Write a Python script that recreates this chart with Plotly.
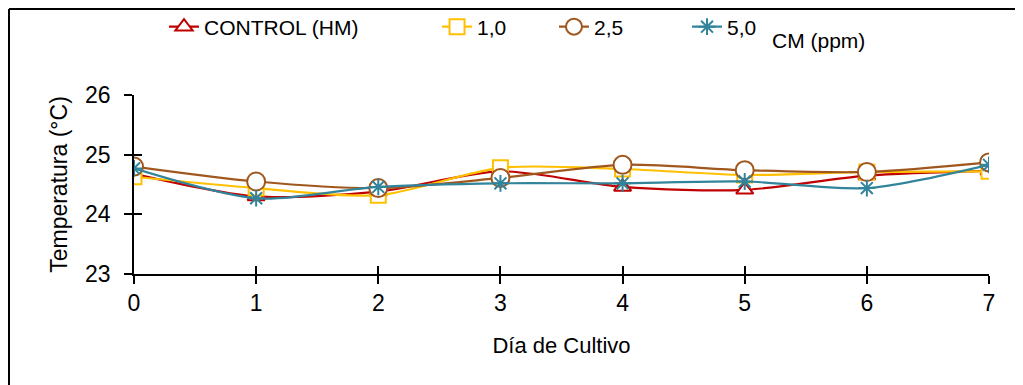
import plotly.graph_objects as go

days = [0, 1, 2, 3, 4, 5, 6, 7]
control = [24.68, 24.30, 24.38, 24.72, 24.46, 24.41, 24.65, 24.73]
cm_1_0 = [24.63, 24.44, 24.32, 24.78, 24.76, 24.66, 24.71, 24.72]
cm_2_5 = [24.80, 24.55, 24.44, 24.61, 24.83, 24.74, 24.71, 24.87]
cm_5_0 = [24.77, 24.27, 24.46, 24.52, 24.52, 24.55, 24.44, 24.83]

names = ["CONTROL (HM)", "1,0", "2,5", "5,0"]
series = [control, cm_1_0, cm_2_5, cm_5_0]
colors = ["#C00000", "#FFC000", "#A0571E", "#31849B"]
symbols = ["triangle-up", "square", "circle", "asterisk"]
sizes = [15, 15, 18, 14]
legend_ids = ["legend", "legend2", "legend3", "legend4"]
legend_x = [0.1537, 0.4227, 0.5379, 0.6690]

FONT = "Arial, Liberation Sans, sans-serif"

fig = go.Figure()
for nm, ys, c, s, sz, lg in zip(names, series, colors, symbols, sizes, legend_ids):
    fig.add_trace(go.Scatter(
        x=days, y=ys, name=nm, mode="lines+markers", legend=lg,
        line=dict(color=c, width=2.2, shape="spline", smoothing=0.8),
        marker=dict(symbol=s, size=sz, color="white" if s != "asterisk" else c,
                    line=dict(color=c, width=2)),
    ))

# dummy trace on overlay axes for crossing ticks
fig.add_trace(go.Scatter(x=[None], y=[None], xaxis="x2", yaxis="y2",
                         showlegend=False, hoverinfo="skip"))

axis_common = dict(showgrid=False, zeroline=False, showline=True, linecolor="black",
                   linewidth=1.5, tickcolor="black", tickwidth=1.5, ticklen=8)

legend_layout = {}
for lg, lx in zip(legend_ids, legend_x):
    legend_layout[lg] = dict(orientation="h", x=lx, y=0.9496, xref="container", yref="container",
                             xanchor="left", yanchor="middle",
                             font=dict(size=21, family=FONT, color="black"),
                             bgcolor="rgba(0,0,0,0)", borderwidth=0)

fig.update_layout(
    width=1015, height=377,
    margin=dict(l=126, r=34, t=87, b=111),
    paper_bgcolor="white", plot_bgcolor="white",
    font=dict(family=FONT, color="black"),
    xaxis=dict(range=[0, 7], tickvals=days, ticks="outside",
               tickfont=dict(size=23, family=FONT),
               title=dict(text="Día de Cultivo", font=dict(size=22, family=FONT), standoff=22),
               **axis_common),
    yaxis=dict(range=[23, 26], tickvals=[23, 24, 25, 26], ticks="outside",
               tickfont=dict(size=23, family=FONT), ticklabelstandoff=9,
               title=dict(text="Temperatura (°C)", font=dict(size=23, family=FONT), standoff=11),
               **axis_common),
    xaxis2=dict(range=[0, 7], tickvals=days, ticks="inside", overlaying="x",
                showticklabels=False, showgrid=False, zeroline=False, showline=False,
                tickcolor="black", tickwidth=1.5, ticklen=8),
    yaxis2=dict(range=[23, 26], tickvals=[23, 24, 25, 26], ticks="inside", overlaying="y",
                showticklabels=False, showgrid=False, zeroline=False, showline=False,
                tickcolor="black", tickwidth=1.5, ticklen=8),
    annotations=[dict(text="CM (ppm)", xref="paper", yref="paper", x=0.744, y=1.307,
                      xanchor="left", yanchor="middle", showarrow=False,
                      font=dict(size=21, family=FONT))],
    shapes=[
        dict(type="line", xref="paper", yref="paper", x0=-0.1462, x1=1.1, y0=1.4804, y1=1.4804,
             line=dict(color="black", width=2)),
        dict(type="line", xref="paper", yref="paper", x0=-0.1462, x1=-0.1462, y0=1.4804, y1=-0.7,
             line=dict(color="black", width=2)),
    ],
    **legend_layout,
)

fig.write_html("out.html")
